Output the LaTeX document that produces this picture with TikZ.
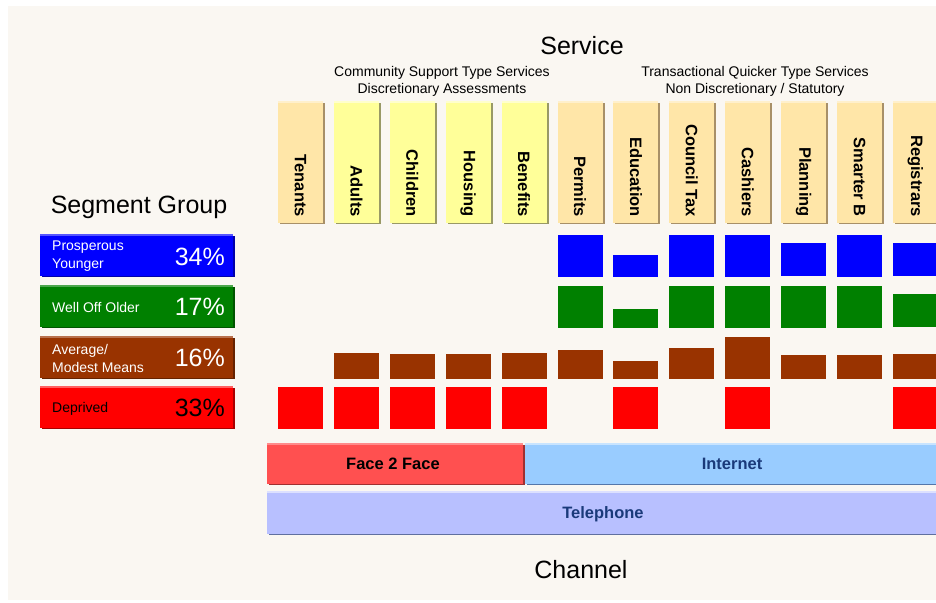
\documentclass[tikz,border=0pt]{standalone}
\usepackage{fontspec}
\setmainfont{Liberation Sans}
\definecolor{panel}{HTML}{FAF7F2}
\definecolor{hor}{HTML}{FFE6A8}\definecolor{horS}{HTML}{A89068}\definecolor{horT}{HTML}{FFF0CC}
\definecolor{hye}{HTML}{FFFF99}\definecolor{hyeS}{HTML}{999966}\definecolor{hyeT}{HTML}{FFFFCC}
\definecolor{cblue}{HTML}{0000FF}\definecolor{cblueT}{HTML}{5555FF}\definecolor{cblueS}{HTML}{0000AA}
\definecolor{cgreen}{HTML}{008000}\definecolor{cgreenT}{HTML}{4CA64C}\definecolor{cgreenS}{HTML}{005500}
\definecolor{cbrown}{HTML}{993300}\definecolor{cbrownT}{HTML}{B8704D}\definecolor{cbrownS}{HTML}{662200}
\definecolor{cred}{HTML}{FF0000}\definecolor{credT}{HTML}{FF6060}\definecolor{credS}{HTML}{AA0000}
\definecolor{fface}{HTML}{FF5050}\definecolor{ffaceT}{HTML}{FF8A8A}\definecolor{ffaceS}{HTML}{A03030}
\definecolor{fnet}{HTML}{99CCFF}\definecolor{fnetT}{HTML}{C8E4FF}\definecolor{fnetS}{HTML}{5577AA}
\definecolor{ftel}{HTML}{B8C0FF}\definecolor{ftelT}{HTML}{DCE0FF}\definecolor{ftelS}{HTML}{6070A0}
\definecolor{navytxt}{HTML}{1A3A7A}
\tikzset{
  bigtitle/.style={font=\fontsize{25}{28}\selectfont, inner sep=0pt},
  subhead/.style={font=\fontsize{14}{17}\selectfont, align=center, inner sep=0pt},
  hdrtext/.style={font=\bfseries\fontsize{16.5}{18}\selectfont, rotate=-90, anchor=east, inner sep=0pt},
  seglabel/.style={font=\fontsize{14}{18}\selectfont, align=left, anchor=west, inner sep=0pt},
  segpct/.style={font=\fontsize{25}{28}\selectfont, anchor=east, inner sep=0pt},
  chantext/.style={font=\bfseries\fontsize{16.5}{18}\selectfont, inner sep=0pt},
}
% raised box: x1,y1,x2,y2,fill,top,shadow
\newcommand\raisedbox[7]{%
  \fill[#7] (#1+2,#2+2) rectangle (#3+2,#4+1);
  \fill[#5] (#1,#2) rectangle (#3,#4);
  \fill[#6] (#1,#2) rectangle (#3,#2+2);
}
\begin{document}
\begin{tikzpicture}[x=1pt,y=-1pt]
\useasboundingbox (0,0) rectangle (936,602);
\fill[white] (0,0) rectangle (936,602);
\fill[panel] (8,6) rectangle (936,600);

% titles
\node[bigtitle] (service) at (582,46) {Service};
\node[subhead] (comm) at (442,81.5) {Community Support Type Services\\Discretionary Assessments};
\node[subhead] (trans) at (755,81.5) {Transactional Quicker Type Services\\Non Discretionary / Statutory};
\node[bigtitle] (seggroup) at (139,207) {Segment Group};
\node[bigtitle] (channel) at (581,570) {Channel};

% service headers
\foreach \i/\nm/\c in {0/Tenants/hor,1/Adults/hye,2/Children/hye,3/Housing/hye,4/Benefits/hye,5/Permits/hor,6/Education/hor,7/Council Tax/hor,8/Cashiers/hor,9/Planning/hor,10/Smarter B/hor,11/Registrars/hor}{
  \pgfmathsetmacro\xl{278+55.9*\i}
  \raisedbox{\xl}{101}{\xl+45}{223}{\c}{\c T}{\c S}
  \node[hdrtext] (h\i) at (\xl+22.5,217) {\nm};
}

% bars: index / blue top / blue bottom / green top / green bottom / brown top / red
\foreach \i/\bt/\bb/\gt/\gb/\rt/\rd in {
  0/0/0/0/0/0/1, 1/0/0/0/0/353/1, 2/0/0/0/0/354/1, 3/0/0/0/0/354/1, 4/0/0/0/0/353/1,
  5/235/277/286/328/350/0, 6/255/277/309/328/361/1, 7/235/277/286/328/348/0,
  8/235/277/286/328/337/1, 9/243/276/286/328/355/0, 10/235/277/286/328/355/0,
  11/243/276/294/327/354/1}{
  \pgfmathsetmacro\xl{278+55.9*\i}
  \ifnum\bt>0 \fill[cblue] (\xl,\bt) rectangle (\xl+45,\bb); \fi
  \ifnum\gt>0 \fill[cgreen] (\xl,\gt) rectangle (\xl+45,\gb); \fi
  \ifnum\rt>0 \fill[cbrown] (\xl,\rt) rectangle (\xl+45,379); \fi
  \ifnum\rd>0 \fill[cred] (\xl,387) rectangle (\xl+45,429); \fi
}

% segment group boxes
\raisedbox{40}{234}{233}{276}{cblue}{cblueT}{cblueS}
\node[seglabel, text=white] (s1) at (52,256) {Prosperous\\Younger};
\node[segpct, text=white] (p1) at (225,257) {34\%};
\raisedbox{40}{285}{233}{327}{cgreen}{cgreenT}{cgreenS}
\node[seglabel, text=white] (s2) at (52,307) {Well Off Older};
\node[segpct, text=white] (p2) at (225,307) {17\%};
\raisedbox{40}{336}{233}{378}{cbrown}{cbrownT}{cbrownS}
\node[seglabel, text=white] (s3) at (52,358) {Average/\\Modest Means};
\node[segpct, text=white] (p3) at (225,358) {16\%};
\raisedbox{40}{386}{233}{428}{cred}{credT}{credS}
\node[seglabel, text=black] (s4) at (52,409) {Deprived};
\node[segpct, text=black] (p4) at (225,408) {33\%};

% channels
\raisedbox{525}{443}{940}{484}{fnet}{fnetT}{fnetS}
\raisedbox{267}{443}{523}{484}{fface}{ffaceT}{ffaceS}
\raisedbox{267}{491}{940}{534}{ftel}{ftelT}{ftelS}
\node[chantext, text=black] (f2f) at (393,464) {Face 2 Face};
\node[chantext, text=navytxt] (net) at (732,464) {Internet};
\node[chantext, text=navytxt] (tel) at (603,514) {Telephone};
\end{tikzpicture}
\end{document}
